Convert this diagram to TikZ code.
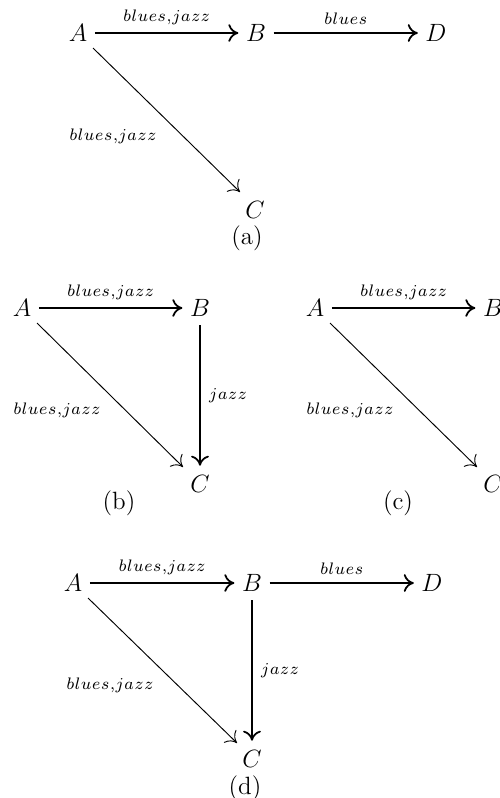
\documentclass[tikz,border=0pt]{standalone}
\usetikzlibrary{arrows.meta}
\newcommand\lk{\kern0.35pt}
\newcommand\bj{$b\lk l\lk u\lk e\lk s\lk{,}\lk j\lk a\lk z\lk z$}
\newcommand\bl{$b\lk l\lk u\lk e\lk s$}
\newcommand\jz{$j\lk a\lk z\lk z$}
\begin{document}
\begin{tikzpicture}[x=0.48pt,y=-0.48pt,
  vtx/.style={inner sep=0pt,font=\fontsize{12}{14}\selectfont},
  lbl/.style={inner sep=0pt,font=\fontsize{8}{9}\selectfont},
  captxt/.style={inner sep=0pt,font=\fontsize{12}{14}\selectfont},
  tip/.style={-{Computer Modern Rightarrow[length=4.8pt,width=8.5pt]}},
  arr/.style={tip,line width=0.85pt,shorten <=3.5pt,shorten >=3.5pt},
  varr/.style={tip,line width=0.85pt,shorten <=4pt,shorten >=4.5pt},
  darr/.style={tip,line width=0.45pt}]
\useasboundingbox (0,0) rectangle (500,798);
% (a)
\node[vtx] (aA) at (78,33) {$A$};
\node[vtx] (aB) at (256,33) {$B$};
\node[vtx] (aD) at (436,33) {$D$};
\node[vtx] (aC) at (255,210) {$C$};
\coordinate (aS) at (93,48);
\coordinate (aE) at (240,192);
\draw[arr] (aA) -- node[lbl,above=3.5pt]{\bj} (aB);
\draw[arr] (aB) -- node[lbl,above=3.5pt]{\bl} (aD);
\draw[darr] (aS) -- (aE);
\node[lbl] (la) at (113,136) {\bj};
\node[captxt] (ca) at (247,238) {(a)};
% (b)
\node[vtx] (bA) at (22,308) {$A$};
\node[vtx] (bB) at (200,308) {$B$};
\node[vtx] (bC) at (200,484) {$C$};
\coordinate (bS) at (37,323);
\coordinate (bE) at (183,467);
\draw[arr] (bA) -- node[lbl,above=3.5pt]{\bj} (bB);
\draw[varr] (bB) -- (bC);
\node[lbl] (lbj) at (228,396) {\jz};
\draw[darr] (bS) -- (bE);
\node[lbl] (lbd) at (57,410) {\bj};
\node[captxt] (cb) at (119,503) {(b)};
% (c)
\node[vtx] (cA) at (315,308) {$A$};
\node[vtx] (cB) at (493,308) {$B$};
\node[vtx] (cC) at (493,484) {$C$};
\coordinate (cS) at (330,323);
\coordinate (cE) at (477,467);
\draw[arr] (cA) -- node[lbl,above=3.5pt]{\bj} (cB);
\draw[darr] (cS) -- (cE);
\node[lbl] (lcd) at (350,410) {\bj};
\node[captxt] (cc) at (398,503) {(c)};
% (d)
\node[vtx] (dA) at (73,583) {$A$};
\node[vtx] (dB) at (252,583) {$B$};
\node[vtx] (dD) at (432,583) {$D$};
\node[vtx] (dC) at (252,759) {$C$};
\coordinate (dS) at (88,598);
\coordinate (dE) at (237,743);
\draw[arr] (dA) -- node[lbl,above=3.5pt]{\bj} (dB);
\draw[arr] (dB) -- node[lbl,above=3.5pt]{\bl} (dD);
\draw[varr] (dB) -- (dC);
\node[lbl] (ldj) at (280,671) {\jz};
\draw[darr] (dS) -- (dE);
\node[lbl] (ldd) at (110,685) {\bj};
\node[captxt] (cd) at (245,788) {(d)};
\end{tikzpicture}
\end{document}
